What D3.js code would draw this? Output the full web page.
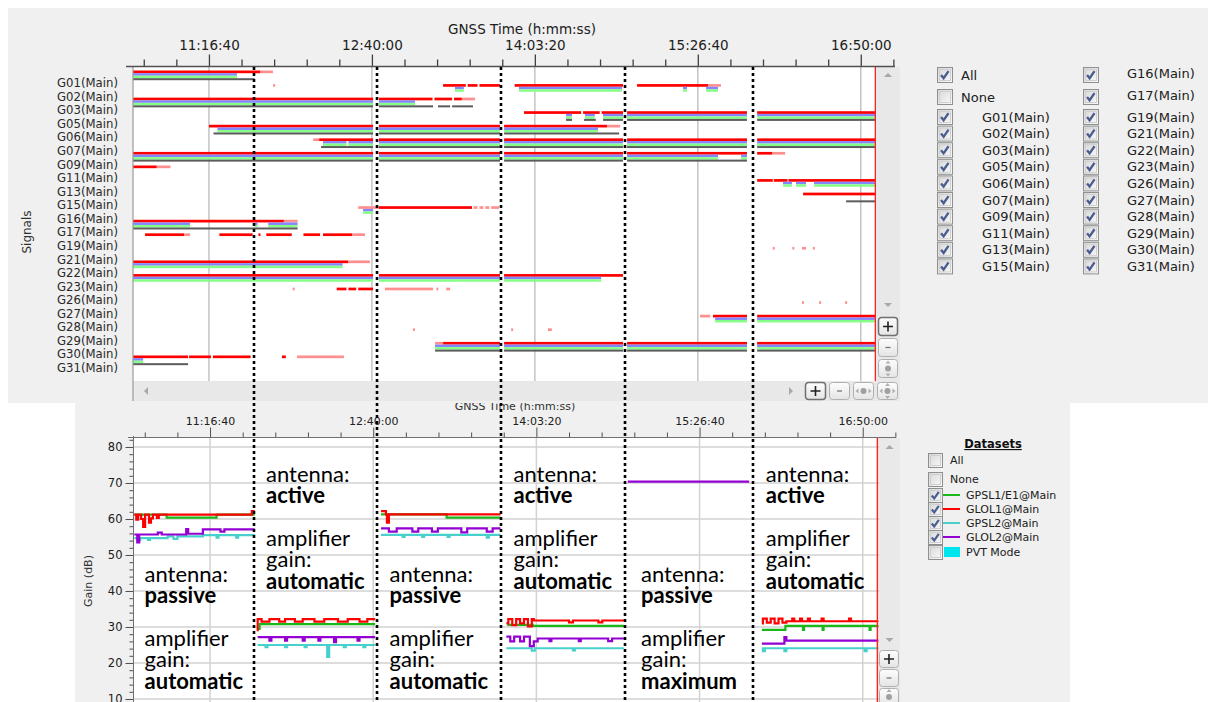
<!DOCTYPE html>
<html>
<head>
<meta charset="utf-8">
<script src="https://cdn.jsdelivr.net/npm/d3@7"></script>
<style>
html,body{margin:0;padding:0;background:#fff;}
svg{display:block;font-family:"DejaVu Sans",sans-serif;}
</style>
</head>
<body>
<svg id="chart" width="1208" height="702"></svg>
<script>
// ================= DATA =================
const tickLabels = ["11:16:40","12:40:00","14:03:20","15:26:40","16:50:00"];
const timeDomain = ["10:37:50","17:07:30"];
const cursorTime = "16:57:30";
const boundaries = ["11:39:43","12:42:37","13:46:01","14:49:26","15:54:53"];

const signals = ["G01(Main)","G02(Main)","G03(Main)","G05(Main)","G06(Main)","G07(Main)","G09(Main)","G11(Main)",
  "G13(Main)","G15(Main)","G16(Main)","G17(Main)","G19(Main)","G21(Main)","G22(Main)","G23(Main)","G26(Main)",
  "G27(Main)","G28(Main)","G29(Main)","G30(Main)","G31(Main)"];
const legendExtras = ["All","None"];

// [satellite, start, end]
const l1Tracks = [
 ["G01","10:37","11:43"],
 ["G02","13:16.4","13:28"],["G02","13:29","13:34"],["G02","13:35","13:45.5"],["G02","13:53","14:48.4"],["G02","14:55.6","15:32"],
 ["G03","10:37","12:40.6"],["G03","12:43.6","13:11"],["G03","13:12","13:21"],["G03","13:22","13:26"],
 ["G05","13:57.8","14:27"],["G05","14:28","14:36.5"],["G05","14:37.5","14:48.4"],["G05","14:50.5","15:51.8"],["G05","15:57","16:58"],
 ["G06","11:16.7","12:40.6"],["G06","12:43.6","13:45.5"],["G06","13:47.6","14:40.2"],
 ["G07","12:13","12:40.6"],["G07","12:43.6","13:45.5"],["G07","13:47.6","14:48.4"],["G07","14:50.5","15:51.8"],["G07","15:57","16:58"],
 ["G09","10:37","12:40.6"],["G09","12:43.6","13:45.5"],["G09","13:47.6","14:48.4"],["G09","14:50.5","15:51.8"],["G09","15:57","16:04.6"],
 ["G11","10:37","10:50"],
 ["G13","15:57","16:05"],["G13","16:05.5","16:12.5"],["G13","16:13","16:58"],
 ["G15","16:20.5","16:58"],
 ["G16","12:43.6","13:31.2"],
 ["G17","10:37","11:55"],
 ["G19","10:44","11:04"],["G19","11:22","11:39"],["G19","11:42","11:43"],["G19","11:46","11:59"],["G19","12:05","12:13.5"],["G19","12:15","12:30"],
 ["G22","10:37","12:28"],
 ["G23","10:37","12:40.6"],["G23","12:43.6","13:45.5"],["G23","13:47.6","14:48.4"],
 ["G26","12:22","12:27"],["G26","12:28","12:32"],["G26","12:33","12:40.6"],
 ["G28","15:34.4","15:51.8"],["G28","15:57","16:58"],
 ["G30","13:16.4","13:45.5"],["G30","13:47.6","14:48.4"],["G30","14:50.5","15:51.8"],["G30","15:57","16:58"],
 ["G31","10:37","11:06"],["G31","11:06.5","11:17.7"],["G31","11:18.7","11:38"],["G31","11:54","11:56"]
];
const l1WeakTracks = [
 ["G01","11:43","11:49.4"],
 ["G02","11:49.5","11:50.5"],["G02","15:32","15:38.5"],
 ["G03","13:26","13:32.7"],
 ["G06","14:40.2","14:46.9"],
 ["G07","12:10","12:13"],
 ["G09","16:04.6","16:11.3"],
 ["G11","10:50","10:57"],
 ["G16","12:33","12:43.6"],["G16","13:32","13:34"],["G16","13:35","13:37"],["G16","13:38","13:40"],["G16","13:41","13:45"],
 ["G17","11:55","12:02"],
 ["G19","11:04","11:07"],["G19","12:30","12:36.5"],
 ["G21","16:05","16:06"],["G21","16:15","16:16"],["G21","16:20","16:22"],["G21","16:25.5","16:26.5"],
 ["G22","12:28","12:39"],
 ["G26","11:59.5","12:00.5"],["G26","12:46.7","13:11.3"],["G26","13:13","13:14"],["G26","13:18","13:20"],
 ["G27","16:20","16:21"],["G27","16:28.7","16:29.7"],["G27","16:42","16:43"],
 ["G28","15:27.8","15:33"],
 ["G29","13:01","13:02"],["G29","13:51.2","13:52.2"],["G29","14:10","14:12"],
 ["G30","13:12.3","13:16.4"],
 ["G31","12:01.7","12:25.7"]
];
// L2 (P and C tracked together)
const l2Tracks = [
 ["G01","10:37","11:31"],
 ["G02","13:22.5","13:27"],["G02","13:55.2","14:47.9"],["G02","15:19.1","15:21.1"],["G02","15:30.9","15:37"],
 ["G03","10:37","12:40.6"],["G03","12:43.6","13:02"],
 ["G05","14:19.3","14:22.3"],["G05","14:29","14:34"],["G05","14:38.2","14:48.4"],["G05","14:50.5","15:51.8"],["G05","15:57","16:58"],
 ["G06","11:21","12:40.6"],["G06","12:43.6","13:45.5"],["G06","13:47.6","14:35.6"],
 ["G07","12:15","12:27"],["G07","12:28","12:40.6"],["G07","12:43.6","13:45.5"],["G07","13:47.6","14:48.4"],["G07","14:50.5","15:51.8"],["G07","15:57","16:58"],
 ["G09","10:37","12:40.6"],["G09","12:43.6","13:45.5"],["G09","13:47.6","14:48.4"],["G09","14:50.5","15:37"],["G09","15:48.8","15:51.8"],
 ["G13","16:10.2","16:14.8"],["G13","16:16.9","16:22"],["G13","16:26.1","16:58"],
 ["G16","12:35.5","12:40.6"],
 ["G17","10:37","11:07"],["G17","11:40","11:41.5"],["G17","11:47","12:02"],
 ["G22","10:37","12:25"],
 ["G23","10:37","12:40.6"],["G23","12:43.6","13:45.5"],["G23","13:47.6","14:37.2"],
 ["G28","15:35.5","15:51.8"],["G28","15:57","16:58"],
 ["G30","13:12.3","13:45.5"],["G30","13:47.6","14:48.4"],["G30","14:50.5","15:51.8"],["G30","15:57","16:58"],
 ["G31","10:37","10:43"]
];
const l5Tracks = [
 ["G01","10:37","11:40"],
 ["G03","10:37","12:40.6"],["G03","12:43.6","13:11.3"],["G03","13:13.8","13:20"],["G03","13:21","13:31.7"],
 ["G05","14:19.3","14:22.3"],["G05","14:28.5","14:34.5"],["G05","14:38.2","14:48.4"],["G05","14:50.5","15:51.8"],["G05","15:57","16:58"],
 ["G06","11:19","12:40.6"],["G06","12:43.6","13:45.5"],["G06","13:47.6","14:46.4"],
 ["G07","12:14","12:40.6"],["G07","12:43.6","13:45.5"],["G07","13:47.6","14:48.4"],["G07","14:50.5","15:51.8"],["G07","15:57","16:58"],
 ["G09","10:37","12:40.6"],["G09","12:43.6","13:45.5"],["G09","13:47.6","14:48.4"],["G09","14:50.5","15:51.8"],
 ["G15","16:42.5","16:58"],
 ["G17","10:37","12:02"],
 ["G30","13:12.3","13:45.5"],["G30","13:47.6","14:48.4"],["G30","14:50.5","15:51.8"],["G30","15:57","16:58"],
 ["G31","10:37","11:06"]
];

const gainTicks = [10,20,30,40,50,60,70,80];
const datasetNames = ["GPSL1/E1@Main","GLOL1@Main","GPSL2@Main","GLOL2@Main"];
const extraDatasets = ["PVT Mode"];

// [time, gain dB]; null = gap
const gpsL1Gain = [
 ["10:38",61.2],["10:54.5",60.4],["11:20",61.2],["11:39.5",61.2],["11:39.6",null],
 ["11:41",29.5],["11:42",30.8],["12:41",30.8],["12:41.1",null],
 ["12:44",61.3],["13:17.5",60.4],["13:45",60.4],["13:45.1",null],
 ["13:48.5",30.6],["14:01.5",30.3],["14:48",30.3],["14:48.1",null],
 ["15:58.5",29.2],["16:10.5",30.3],["16:19.5",29.2],["16:20",30.3],["16:29.5",29.2],["16:30",30.3],["16:53.5",29.2],["16:54",30.3],["16:58",30.3]
];
const gloL1Gain = [
 ["10:38",61.2],["10:39",59.8],["10:40",61.2],["10:41.5",60],["10:42.5",57.8],["10:43.5",61.2],["10:45.5",59],["10:46.5",60.2],
 ["10:47.5",61.2],["10:49.5",60.3],["10:50.5",61.2],["11:38",62.2],["11:39.5",62.2],["11:39.6",null],
 ["11:40.5",29.1],["11:41",32.2],["11:43",31.5],["11:47",32.2],["11:52",31.5],["11:55",32.2],["12:00",31.5],["12:04",32.2],
 ["12:10",31.5],["12:15",32.2],["12:22",31.5],["12:27",32.2],["12:33",31.5],["12:37",32.2],["12:41",32.2],["12:41.1",null],
 ["12:44",62.2],["12:46.5",61.3],["12:47",59],["12:48",61.3],["13:45",61.3],["13:45.1",null],
 ["13:48",31],["13:49",32.2],["13:51",30.5],["13:53",32.2],["13:55",31],["13:57",32.2],["13:59",30.2],["14:01",32.2],["14:02",31.8],
 ["14:20",31.3],["14:22",31.8],["14:35",31.3],["14:37",31.8],["14:48",31.8],["14:48.1",null],
 ["15:58.5",31],["15:59",32.3],["16:01",31.2],["16:03",32.3],["16:05",31],["16:07",32.3],["16:09",31.2],["16:11",31.6],
 ["16:14",32.3],["16:15",31.6],["16:18",32.3],["16:19",31.6],["16:22",32.3],["16:23",31.6],["16:29",32.3],["16:30",31.6],
 ["16:43",32.3],["16:44",31.6],["16:58",31.6]
];
const gpsL2Gain = [
 ["10:38",54.7],["10:40",54.2],["10:41",54.7],["10:45",54.2],["10:46",54.7],["10:55",55.2],["10:58",54.5],["11:00",55.2],
 ["11:13",55.5],["11:20",54.8],["11:21",55.5],["11:30",54.8],["11:31",55.5],["11:39.5",55.5],["11:39.6",null],
 ["11:41",25],["11:45",24.4],["11:46",25],["11:55",24.4],["11:56",25],["12:05",24.4],["12:06",25],["12:16.5",21.7],["12:17.5",25],
 ["12:25",24.4],["12:26",25],["12:35",24.4],["12:36",25],["12:41",25],["12:41.1",null],
 ["12:44",55.6],["12:55",55],["12:56",55.6],["13:05",55],["13:06",55.6],["13:18",55],["13:19",55.6],["13:38",54.8],["13:39",55.6],["13:45",55.6],["13:45.1",null],
 ["13:48",24.1],["14:01",23.4],["14:02.5",24.1],["14:22",23.5],["14:23",24.1],["14:48",24.1],["14:48.1",null],
 ["15:58.5",24.1],["15:59",23.3],["16:00",24.1],["16:10",23.3],["16:11",24.1],["16:51",23.3],["16:52",24.1],["16:58",24.1]
];
const gloL2Gain = [
 ["10:38",55.7],["10:39.5",53.5],["10:40.5",55.7],["10:50",56.2],["10:52",55.7],["11:04.5",57.2],["11:05.5",55.9],["11:13",57.1],
 ["11:22",56.5],["11:24",57.1],["11:39.5",57.1],["11:39.6",null],
 ["11:41",27.2],["11:47",26.2],["11:48",27.2],["11:55",26.2],["11:56",27.2],["12:04",26.2],["12:05",27.2],["12:12",26.2],["12:13",27.2],
 ["12:20",25.8],["12:21",27.2],["12:32",26.2],["12:33",27.2],["12:41",27.2],["12:41.1",null],
 ["12:44",57.4],["12:48",56.5],["12:52",57.4],["13:00",56.5],["13:03",57.4],["13:10",56.5],["13:13",57.4],["13:25",56.3],["13:28",57.4],
 ["13:38",56.5],["13:41",57.4],["13:45",57.4],["13:45.1",null],
 ["13:48",27.3],["13:50",26],["13:52",27.3],["13:55",26],["13:57",27.3],["14:00",24.7],["14:02",26],["14:04",26.8],["14:10",26.1],
 ["14:11",26.8],["14:25",26.1],["14:26",26.8],["14:40",26.1],["14:42",26.8],["14:48",26.8],["14:48.1",null],
 ["14:50",70.4],["15:52",70.4],["15:52.1",null],
 ["15:58.5",25.4],["16:10",27.2],["16:11",26.2],["16:58",26.2]
];

const antennaModes = ["passive","active","passive","active","passive","active"];
const amplifierModes = ["automatic","automatic","automatic","automatic","maximum","automatic"];

// ================= STYLES =================
const datasetColors = ["#18b818","#ff0000","#48d1cc","#9400d3"];
const pvtColor = "#00e5ee";
const bandStyles = { l1:"#ff0000", l1weak:"#ff8f8f", l2p:"#8585ff", l2c:"#85ff85", l5:"#5c5c5c" };
const annFont = "Lato, 'Open Sans', sans-serif";

// ================= HELPERS =================
const ts = s => { const p = s.split(":").map(Number); return p[0]*3600 + p[1]*60 + (p[2]||0); };
const fmt = t => { const h=Math.floor(t/3600), m=Math.floor((t%3600)/60), s=Math.round(t%60);
  return h+":"+String(m).padStart(2,"0")+":"+String(s).padStart(2,"0"); };

const svg = d3.select("#chart");
const defs = svg.append("defs");
const cbGrad = defs.append("linearGradient").attr("id","cbGrad").attr("x1",0).attr("y1",0).attr("x2",1).attr("y2",1);
cbGrad.append("stop").attr("offset","0%").attr("stop-color","#d6d6d6");
cbGrad.append("stop").attr("offset","100%").attr("stop-color","#fbfbfb");
const btnGrad = defs.append("linearGradient").attr("id","btnGrad").attr("x1",0).attr("y1",0).attr("x2",0).attr("y2",1);
btnGrad.append("stop").attr("offset","0%").attr("stop-color","#fdfdfd");
btnGrad.append("stop").attr("offset","100%").attr("stop-color","#e4e4e4");
defs.append("clipPath").attr("id","clipTop").append("rect").attr("x",133).attr("y",67).attr("width",743).attr("height",314);
defs.append("clipPath").attr("id","clipBot").append("rect").attr("x",134).attr("y",438).attr("width",745).attr("height",264);

const T0 = ts(timeDomain[0]), T1 = ts(timeDomain[1]);
const xTop = d3.scaleLinear().domain([T0,T1]).range([133,895]);
const xBot = d3.scaleLinear().domain([T0,T1]).range([134,897]);
const rowScale = d3.scaleBand().domain(signals.map(s=>s.slice(0,3))).range([70, 70+13.57*signals.length]);
const yGain = d3.scaleLinear().domain([10,80]).range([699,447]);

const majorT = tickLabels.map(ts);
const minorT = d3.range(majorT[0]-2000, T1+1, 1000).filter(t => !majorT.includes(t));

function checkbox(g, x, y, size, checked){
  const b = g.append("g").attr("transform",`translate(${x},${y})`);
  b.append("rect").attr("x",0.5).attr("y",0.5).attr("width",size-1).attr("height",size-1)
    .attr("fill","url(#cbGrad)").attr("stroke","#8e8f8f");
  b.append("rect").attr("x",2.5).attr("y",2.5).attr("width",size-5).attr("height",size-5)
    .attr("fill","none").attr("stroke","#cfcfcf");
  if(checked){
    const k = size/15;
    b.append("path").attr("d",`M${3.8*k},${7.5*k} L${6.2*k},${10.5*k} L${10.8*k},${3.8*k}`)
      .attr("fill","none").attr("stroke","#4a5d8f").attr("stroke-width",2.2*k);
  }
}
function button(g, x, y, w, h, kind, focused){
  const b = g.append("g").attr("transform",`translate(${x},${y})`);
  b.append("rect").attr("x",0.5).attr("y",0.5).attr("width",w-1).attr("height",h-1).attr("rx",3)
    .attr("fill","url(#btnGrad)").attr("stroke",focused?"#707070":"#b0b0b0").attr("stroke-width",focused?1.5:1);
  const cx=w/2, cy=h/2;
  if(kind==="+"){
    b.append("path").attr("d",`M${cx-5},${cy} H${cx+5} M${cx},${cy-5} V${cy+5}`).attr("stroke","#202020").attr("stroke-width",1.6);
  } else if(kind==="-"){
    b.append("path").attr("d",`M${cx-2.5},${cy} H${cx+2.5}`).attr("stroke","#707070").attr("stroke-width",1.2);
  } else {
    b.append("circle").attr("cx",cx).attr("cy",cy).attr("r",3).attr("fill","#a0a0a0");
    let d = "";
    if(kind==="h"||kind==="a") d += `M${cx-8},${cy} L${cx-5},${cy-2.5} V${cy+2.5}Z M${cx+8},${cy} L${cx+5},${cy-2.5} V${cy+2.5}Z `;
    if(kind==="v"||kind==="a") d += `M${cx},${cy-8} L${cx-2.5},${cy-5} H${cx+2.5}Z M${cx},${cy+8} L${cx-2.5},${cy+5} H${cx+2.5}Z`;
    b.append("path").attr("d",d).attr("fill","#b0b0b0");
  }
}
function tri(g, cx, cy, dir){
  const s=4;
  let d;
  if(dir==="up") d=`M${cx-s},${cy+s/2} L${cx+s},${cy+s/2} L${cx},${cy-s/2}Z`;
  else if(dir==="down") d=`M${cx-s},${cy-s/2} L${cx+s},${cy-s/2} L${cx},${cy+s/2}Z`;
  else if(dir==="left") d=`M${cx+s/2},${cy-s} L${cx+s/2},${cy+s} L${cx-s/2},${cy}Z`;
  else d=`M${cx-s/2},${cy-s} L${cx-s/2},${cy+s} L${cx+s/2},${cy}Z`;
  g.append("path").attr("d",d).attr("fill","#a8a8a8");
}

// ================= BOTTOM PANEL =================
svg.append("rect").attr("x",75).attr("y",403).attr("width",995).attr("height",299).attr("fill","#f0f0f0");
const botG = svg.append("g");
botG.append("rect").attr("x",134).attr("y",438).attr("width",745).attr("height",264).attr("fill","#fff");
botG.append("g").selectAll("line").data(gainTicks).join("line")
  .attr("x1",134).attr("x2",879).attr("y1",d=>yGain(d)).attr("y2",d=>yGain(d))
  .attr("stroke","#d2d2d2").attr("stroke-width",1.5);
botG.append("g").selectAll("line").data(majorT).join("line")
  .attr("x1",d=>xBot(d)).attr("x2",d=>xBot(d)).attr("y1",438).attr("y2",702)
  .attr("stroke","#d2d2d2").attr("stroke-width",1.5);
botG.append("rect").attr("x",879).attr("y",438).attr("width",21).attr("height",264).attr("fill","#e9e9e9");
tri(botG, 889.5, 447, "up");
tri(botG, 889.5, 640, "down");
button(botG, 879, 650, 20, 18, "+", false);
button(botG, 879, 669, 20, 18, "-", false);
button(botG, 879, 688, 20, 18, "v", false);

const gBx1 = botG.append("g").attr("transform","translate(0,437.5)")
  .call(d3.axisTop(xBot).tickValues(minorT).tickSize(5).tickSizeOuter(0).tickFormat(""));
const gBx2 = botG.append("g").attr("transform","translate(0,437.5)")
  .call(d3.axisTop(xBot).tickValues(majorT).tickSize(10).tickSizeOuter(0).tickPadding(2.5).tickFormat(fmt));
[gBx1,gBx2].forEach(g=>{ g.select(".domain").remove(); g.selectAll("line").attr("stroke","#505050"); });
gBx2.selectAll("text").attr("font-family","DejaVu Sans").attr("font-size",11).attr("fill","#202020");
botG.append("line").attr("x1",128).attr("x2",896).attr("y1",437.5).attr("y2",437.5).attr("stroke","#707070");

const minorG = d3.range(10,83,2).filter(v=>!gainTicks.includes(v));
const gBy1 = botG.append("g").attr("transform","translate(133.5,0)")
  .call(d3.axisLeft(yGain).tickValues(minorG).tickSize(4).tickSizeOuter(0).tickFormat(""));
const gBy2 = botG.append("g").attr("transform","translate(133.5,0)")
  .call(d3.axisLeft(yGain).tickValues(gainTicks).tickSize(8).tickSizeOuter(0).tickPadding(3));
[gBy1,gBy2].forEach(g=>{ g.select(".domain").remove(); g.selectAll("line").attr("stroke","#505050"); });
gBy2.selectAll("text").attr("font-family","DejaVu Sans").attr("font-size",11.5).attr("fill","#202020");
botG.append("line").attr("x1",133.5).attr("x2",133.5).attr("y1",436).attr("y2",702).attr("stroke","#707070");
botG.append("text").attr("transform","translate(92,581) rotate(-90)").attr("text-anchor","middle")
  .attr("font-size",11).attr("fill","#303030").text("Gain (dB)");
botG.append("text").attr("x",515).attr("y",410).attr("text-anchor","middle")
  .attr("font-size",11).attr("fill","#303030").text("GNSS Time (h:mm:ss)");

const line = d3.line().defined(d=>d[1]!==null).curve(d3.curveStepAfter)
  .x(d=>xBot(ts(d[0]))).y(d=>yGain(d[1]));
const gainSeries = [gpsL1Gain, gloL1Gain, gpsL2Gain, gloL2Gain];
const gLines = botG.append("g").attr("clip-path","url(#clipBot)");
gainSeries.forEach((s,i)=>{
  gLines.append("path").datum(s).attr("d",line).attr("fill","none")
    .attr("stroke",datasetColors[i]).attr("stroke-width",2.2);
});
botG.append("line").attr("x1",xBot(ts(cursorTime))).attr("x2",xBot(ts(cursorTime))).attr("y1",438).attr("y2",702)
  .attr("stroke","#ff2020").attr("stroke-width",1.5);

const lg = botG.append("g");
lg.append("text").attr("x",993).attr("y",448).attr("text-anchor","middle").attr("font-size",11.5)
  .attr("font-weight","bold").attr("text-decoration","underline").attr("fill","#101010").text("Datasets");
const lgItems = legendExtras.concat(datasetNames, extraDatasets);
const lgY = [460,479,495,509,523,537,552];
lgItems.forEach((name,i)=>{
  const isData = i>=2 && i<2+datasetNames.length;
  checkbox(lg, 928, lgY[i]-7, 15, isData);
  if(isData){
    lg.append("line").attr("x1",943).attr("x2",960).attr("y1",lgY[i]).attr("y2",lgY[i])
      .attr("stroke",datasetColors[i-2]).attr("stroke-width",2);
  }
  if(name==="PVT Mode"){
    lg.append("rect").attr("x",944).attr("y",lgY[i]-5).attr("width",16).attr("height",10).attr("fill",pvtColor);
  }
  lg.append("text").attr("x", i<2?950:966).attr("y",lgY[i]).attr("dy","0.35em")
    .attr("font-size",11).attr("fill","#202020").text(name);
});

// ================= TOP PANEL =================
svg.append("rect").attr("x",8).attr("y",8).attr("width",1200).attr("height",395).attr("fill","#f0f0f0");
const topG = svg.append("g");
topG.append("rect").attr("x",133).attr("y",67).attr("width",743).attr("height",314).attr("fill","#fff");
topG.append("g").selectAll("line").data(majorT).join("line")
  .attr("x1",d=>xTop(d)).attr("x2",d=>xTop(d)).attr("y1",67).attr("y2",381)
  .attr("stroke","#c4c4c4").attr("stroke-width",1.5);

const gBars = topG.append("g").attr("clip-path","url(#clipTop)");
function drawBars(data, color, off, h){
  gBars.append("g").selectAll("rect").data(data).join("rect")
    .attr("x",d=>xTop(ts(d[1]))).attr("width",d=>Math.max(1.5, xTop(ts(d[2]))-xTop(ts(d[1]))))
    .attr("y",d=>rowScale(d[0])+off).attr("height",h).attr("fill",color);
}
drawBars(l1Tracks, bandStyles.l1, 0.5, 2.7);
drawBars(l1WeakTracks, bandStyles.l1weak, 0.5, 2.7);
drawBars(l2Tracks, bandStyles.l2p, 3.2, 2.5);
drawBars(l2Tracks, bandStyles.l2c, 5.7, 2.5);
drawBars(l5Tracks, bandStyles.l5, 8.2, 2);

topG.append("line").attr("x1",xTop(ts(cursorTime))).attr("x2",xTop(ts(cursorTime))).attr("y1",67).attr("y2",381)
  .attr("stroke","#ff2020").attr("stroke-width",1.5);

topG.append("rect").attr("x",876).attr("y",67).attr("width",24).attr("height",314).attr("fill","#e8e8e8");
topG.append("rect").attr("x",133).attr("y",381).attr("width",767).attr("height",20).attr("fill","#e8e8e8");
tri(topG, 888, 75, "up");
tri(topG, 888, 305, "down");
tri(topG, 146, 391, "left");
tri(topG, 791, 391, "right");
button(topG, 878, 317, 20, 19, "+", true);
button(topG, 878, 338, 20, 19, "-", false);
button(topG, 878, 359, 20, 19, "v", false);
button(topG, 805, 382, 21, 18, "+", true);
button(topG, 829, 382, 21, 18, "-", false);
button(topG, 853, 382, 21, 18, "h", false);
button(topG, 877, 382, 21, 18, "a", false);
topG.append("line").attr("x1",133).attr("x2",133).attr("y1",66).attr("y2",401).attr("stroke","#9a9a9a").attr("stroke-width",1.2);

const gTx1 = topG.append("g").attr("transform","translate(0,66.5)")
  .call(d3.axisTop(xTop).tickValues(minorT).tickSize(7).tickSizeOuter(0).tickFormat(""));
const gTx2 = topG.append("g").attr("transform","translate(0,66.5)")
  .call(d3.axisTop(xTop).tickValues(majorT).tickSize(12).tickSizeOuter(0).tickPadding(4.5).tickFormat(fmt));
[gTx1,gTx2].forEach(g=>{ g.select(".domain").remove(); g.selectAll("line").attr("stroke","#404040").attr("stroke-width",1.3); });
gTx2.selectAll("text").attr("font-family","DejaVu Sans").attr("font-size",13.5).attr("fill","#202020");
topG.append("line").attr("x1",126).attr("x2",895).attr("y1",66.5).attr("y2",66.5).attr("stroke","#505050").attr("stroke-width",1.3);
topG.append("text").attr("x",522).attr("y",34).attr("text-anchor","middle").attr("font-size",13.5)
  .attr("fill","#202020").text("GNSS Time (h:mm:ss)");

topG.append("g").selectAll("text").data(signals).join("text")
  .attr("x",118).attr("y",d=>rowScale(d.slice(0,3))+13).attr("dy","0.35em").attr("text-anchor","end")
  .attr("font-size",11.7).attr("fill","#2a2a2a").text(d=>d);
topG.append("text").attr("transform","translate(31,232) rotate(-90)").attr("text-anchor","middle")
  .attr("font-size",12).attr("fill","#303030").text("Signals");

const tl = topG.append("g");
const col1 = legendExtras.concat(signals.slice(0,10));
const col2 = signals.slice(10);
const rowY = k => k===0?75:(k===1?97:117+16.6*(k-2));
col1.forEach((name,k)=>{
  checkbox(tl, 937, rowY(k)-8, 16, name!=="None");
  tl.append("text").attr("x", k<2?961:982).attr("y",rowY(k)).attr("dy","0.35em").attr("font-size",13)
    .attr("fill","#202020").text(name);
});
col2.forEach((name,k)=>{
  checkbox(tl, 1083, rowY(k)-8, 16, true);
  tl.append("text").attr("x",1127).attr("y",rowY(k)-(k<2?2:0)).attr("dy","0.35em").attr("font-size",13)
    .attr("fill","#202020").text(name);
});

// ================= ANNOTATIONS =================
const ann = svg.append("g");
const regionX = [134].concat(boundaries.map(b=>xTop(ts(b))), [xBot(ts(cursorTime))]);
antennaModes.forEach((mode,i)=>{
  const active = mode==="active";
  const y0 = yGain(active?70.3:42.5);
  const lines = [["antenna:",false],[mode,true],["amplifier",false],["gain:",false],[amplifierModes[i],true]];
  const offs = [0,21,64,85,107];
  const txt = ann.append("text")
    .style("font-family",annFont).style("font-size","22px").attr("fill","#000");
  lines.forEach((l,j)=>{
    txt.append("tspan").attr("x",0).attr("y",y0+offs[j])
      .style("font-weight",l[1]?"bold":"normal").text(l[0]);
  });
  const w = txt.node().getBBox().width;
  const cx = (regionX[i]+regionX[i+1])/2;
  txt.attr("transform",`translate(${cx - w/2},0)`);
});

ann.append("g").selectAll("line").data(boundaries).join("line")
  .attr("x1",d=>xTop(ts(d))).attr("x2",d=>xTop(ts(d))).attr("y1",67).attr("y2",702)
  .attr("stroke","#000").attr("stroke-width",2.6).attr("stroke-dasharray","3,3");
</script>
</body>
</html>
